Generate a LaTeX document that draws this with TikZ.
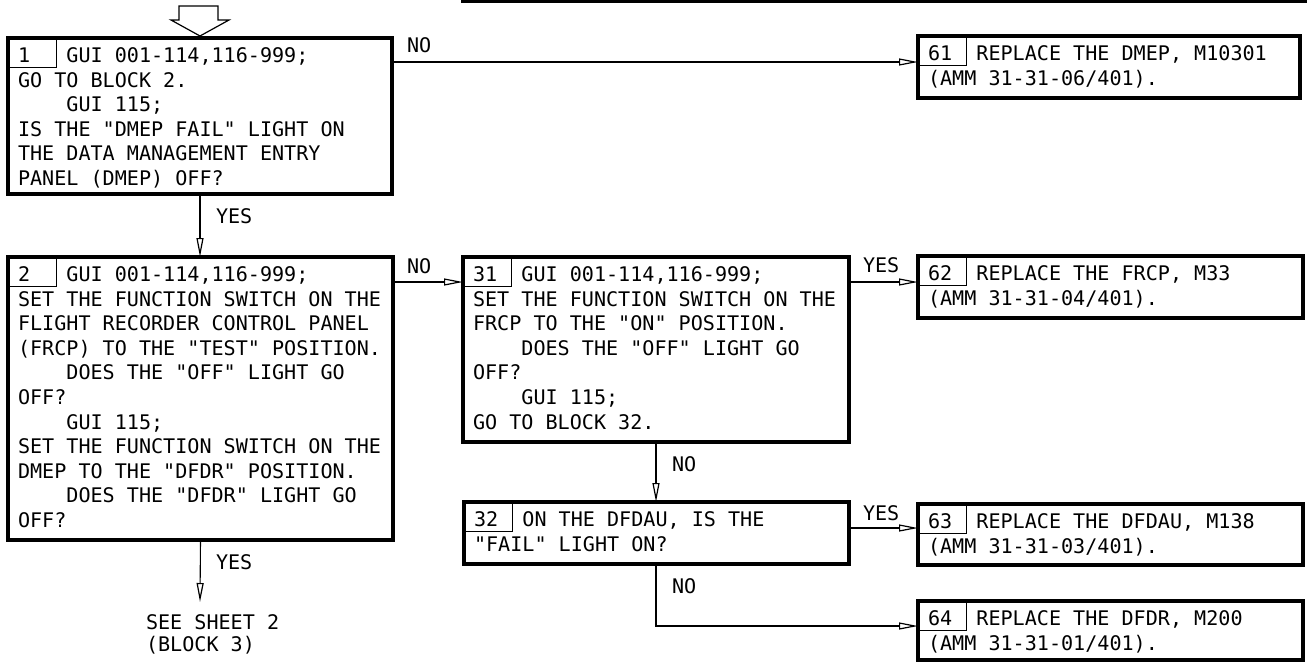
\documentclass[tikz,border=0pt]{standalone}
\usepackage{fontspec}
\setmonofont{DejaVu Sans Mono}
\usetikzlibrary{arrows.meta,calc}
\tikzset{
 fcb/.style={draw, line width=3.5pt, outer sep=0pt, inner sep=0pt, rectangle},
 cellst/.style={line width=1pt},
 txt/.style={font=\ttfamily\fontsize{20.1}{24.6}\selectfont, inner sep=0pt, outer sep=0pt},
 arr/.style={line width=1.1pt, -{Triangle[open,length=19pt,width=7pt,line width=1.2pt]}},
 lbl/.style={txt, anchor=base west},
}
\newcommand\fcbox[6]{%
 \node[fcb, minimum width=#4pt, minimum height=#5pt, anchor=north west] (#1) at (#2,#3) {};
 \draw[cellst] (#1.north west) rectangle ++(48.5,29);
 \node[txt, anchor=base west] (#1-t) at ([shift={(10,24.5)}]#1.north west) {\vtop{\baselineskip=24.6pt #6}};
}
\begin{document}
\begin{tikzpicture}[x=1pt,y=-1pt]
\useasboundingbox (0,0) rectangle (1308,662);
\fill[white] (0,0) rectangle (1308,662);
\clip (0,0) rectangle (1308,662);

% cut-off box at the top
\draw[line width=3.5pt] (463,-10) -- (463,1.5) -- (1305,1.5) -- (1305,-10);
% entry arrow
\draw[line width=1.2pt, fill=white] (179,6) -- (218,6) -- (218,20) -- (229,20) -- (200,36) -- (171,20) -- (179,20) -- cycle;

\fcbox{b1}{8}{38}{384}{156}{%
 \hbox{1\hphantom{000}GUI 001-114,116-999;}
 \hbox{GO TO BLOCK 2.}
 \hbox{\hphantom{0000}GUI 115;}
 \hbox{IS THE "DMEP FAIL" LIGHT ON}
 \hbox{THE DATA MANAGEMENT ENTRY}
 \hbox{PANEL (DMEP) OFF?}}

\fcbox{b2}{8}{257}{385}{283}{%
 \hbox{2\hphantom{000}GUI 001-114,116-999;}
 \hbox{SET THE FUNCTION SWITCH ON THE}
 \hbox{FLIGHT RECORDER CONTROL PANEL}
 \hbox{(FRCP) TO THE "TEST" POSITION.}
 \hbox{\hphantom{0000}DOES THE "OFF" LIGHT GO}
 \hbox{OFF?}
 \hbox{\hphantom{0000}GUI 115;}
 \hbox{SET THE FUNCTION SWITCH ON THE}
 \hbox{DMEP TO THE "DFDR" POSITION.}
 \hbox{\hphantom{0000}DOES THE "DFDR" LIGHT GO}
 \hbox{OFF?}}

\fcbox{b31}{463}{257}{386}{185}{%
 \hbox{31\hphantom{00}GUI 001-114,116-999;}
 \hbox{SET THE FUNCTION SWITCH ON THE}
 \hbox{FRCP TO THE "ON" POSITION.}
 \hbox{\hphantom{0000}DOES THE "OFF" LIGHT GO}
 \hbox{OFF?}
 \hbox{\hphantom{0000}GUI 115;}
 \hbox{GO TO BLOCK 32.}}

\fcbox{b32}{464}{502}{385}{62}{%
 \hbox{32\hphantom{00}ON THE DFDAU, IS THE}
 \hbox{"FAIL" LIGHT ON?}}

\fcbox{b61}{918}{36}{382}{62}{%
 \hbox{61\hphantom{00}REPLACE THE DMEP, M10301}
 \hbox{(AMM 31-31-06/401).}}

\fcbox{b62}{918}{256}{385}{62}{%
 \hbox{62\hphantom{00}REPLACE THE FRCP, M33}
 \hbox{(AMM 31-31-04/401).}}

\fcbox{b63}{918}{504}{385}{61}{%
 \hbox{63\hphantom{00}REPLACE THE DFDAU, M138}
 \hbox{(AMM 31-31-03/401).}}

\fcbox{b64}{918}{601}{385}{59}{%
 \hbox{64\hphantom{00}REPLACE THE DFDR, M200}
 \hbox{(AMM 31-31-01/401).}}

% end text
\node[txt, anchor=base west] (see) at (146,629) {\vtop{\baselineskip=22pt\hbox{SEE SHEET 2}\hbox{(BLOCK 3)}}};
\coordinate (seeA) at (200,602);

% connector levels
\coordinate (y1) at (0,62);
\coordinate (y2) at (0,282);
\coordinate (y3) at (0,528);
\coordinate (y4) at (0,626);

\draw[arr] (b1.east |- y1) -- (b61.west |- y1);
\draw[arr] (b1.south) -- (b1.south |- b2.north);
\draw[arr] (b2.east |- y2) -- (b31.west |- y2);
\draw[arr] (b31.east |- y2) -- (b62.west |- y2);
\draw[arr] (b31.south) -- (b31.south |- b32.north);
\draw[arr] (b32.east |- y3) -- (b63.west |- y3);
\draw[arr] (b31.south |- b32.south) |- (b64.west |- y4);
\draw[arr] (b2.south) -- (seeA);

% labels
\node[lbl] (l1) at (407,52) {NO};
\node[lbl] (l2) at (216,223) {YES};
\node[lbl] (l3) at (407,273) {NO};
\node[lbl] (l4) at (863,272) {YES};
\node[lbl] (l5) at (672,471) {NO};
\node[lbl] (l6) at (863,520) {YES};
\node[lbl] (l7) at (672,593) {NO};
\node[lbl] (l8) at (216,569) {YES};
\end{tikzpicture}
\end{document}
